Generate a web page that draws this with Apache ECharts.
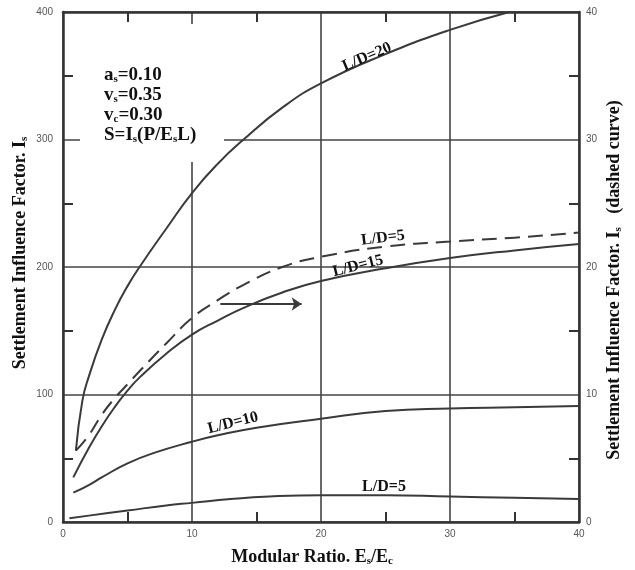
<!DOCTYPE html>
<html><head><meta charset="utf-8">
<script src="https://cdn.jsdelivr.net/npm/echarts@6/dist/echarts.min.js"></script>
<style>html,body{margin:0;padding:0;background:#fff}#c{width:635px;height:570px}</style>
</head><body><div id="c"></div>
<script>
// ---- data ----
const xRange = [0, 40];          // Modular ratio Es/Ec
const leftRange = [0, 400];      // Is (solid curves)
const rightRange = [0, 40];      // Is (dashed curve)
const xStep = 10, leftStep = 100, rightStep = 10;

// solid curves, left axis
const ld20 = [[1,56],[1.5,95],[2,114],[3,143],[4,166],[5,185],[6,201],[8,230],[10,258],[12,281],[14,300],[17,325],[20,344],[25,367],[30,386],[34.6,400]];
const ld15 = [[0.8,35],[2,58],[3,75],[4,90],[5,103],[6,114],[8,132],[10,147],[12,158],[14,168],[17,180],[20,189],[25,199],[30,207],[35,213],[40,218]];
const ld10 = [[0.8,23],[2,29],[3,35],[5,46],[7,54],[10,63],[12,68],[15,74],[20,81],[25,87],[30,89],[35,90],[40,91]];
const ld5  = [[0.5,3],[2,5],[5,9],[8,13],[10,15],[13,18],[16,20],[20,21],[25,21],[30,20],[35,19],[40,18]];
// dashed curve, right axis
const ld5Dashed = [[1,5.6],[2,6.8],[3,8.4],[4,9.7],[5,10.8],[6,11.9],[8,14.0],[10,16.0],[12,17.4],[14,18.6],[17,20.0],[20,20.8],[25,21.6],[30,22.0],[35,22.3],[40,22.7]];
// arrow pointing towards the right (dashed) axis
const arrowFrom = [12.2, 171];
const arrowTo = [18.5, 171];

const curveNames = ['L/D=20', 'L/D=5', 'L/D=15', 'L/D=10', 'L/D=5'];

// ---- styling ----
const ink = '#3a3a3a';
const serif = '"Liberation Serif", "DejaVu Serif", serif';
const tickFont = {fontSize: 10, color: '#555', fontFamily: '"Liberation Sans", sans-serif'};

function valueAxis(pos, range, step, showLabel, showSplit, margin) {
  return {
    type: 'value', position: pos, min: range[0], max: range[1], interval: step,
    axisLine: {show: true, onZero: false, lineStyle: {color: '#333', width: 2.5}},
    axisTick: {show: false, inside: true},
    minorTick: {show: true, splitNumber: 2, length: 10, lineStyle: {color: '#333', width: 2}},
    axisLabel: Object.assign({show: showLabel, margin: margin}, tickFont),
    splitLine: {show: showSplit, lineStyle: {color: '#444', width: 1.6}},
    minorSplitLine: {show: false}
  };
}

function solid(data) {
  return {type: 'line', data: data, xAxisIndex: 0, yAxisIndex: 0, symbol: 'none', showSymbol: false,
    smooth: 0.5, lineStyle: {color: ink, width: 2}, emphasis: {disabled: true}, z: 3};
}

const chart = echarts.init(document.getElementById('c'), null, {renderer: 'canvas'});

const rich = {
  n: {fontFamily: serif, fontSize: 19, fontWeight: 'bold', color: '#111', lineHeight: 20},
  s: {fontFamily: serif, fontSize: 11, fontWeight: 'bold', color: '#111', lineHeight: 11, verticalAlign: 'bottom'}
};
const richT = {
  n: {fontFamily: serif, fontSize: 18, fontWeight: 'bold', color: '#111', lineHeight: 20},
  s: {fontFamily: serif, fontSize: 11, fontWeight: 'bold', color: '#111', lineHeight: 11, verticalAlign: 'bottom'}
};

function label(text, x, y, rotDeg, size) {
  return {type: 'text', x: x, y: y, rotation: rotDeg * Math.PI / 180, z: 10,
    style: {text: text, fill: '#111', font: 'bold ' + (size || 16) + 'px ' + serif,
      align: 'center', verticalAlign: 'middle', textAlign: 'center', textVerticalAlign: 'middle'}};
}

function richText(text, x, y, rotDeg, align) {
  return {type: 'text', x: x, y: y, rotation: rotDeg * Math.PI / 180, z: 10,
    style: {text: text, rich: richT, fill: '#111', font: 'bold 18px ' + serif,
      align: align, verticalAlign: 'middle', textAlign: align, textVerticalAlign: 'middle'}};
}

chart.setOption({
  animation: false,
  backgroundColor: '#fff',
  grid: {left: 63, right: 56, top: 12, bottom: 48, show: false},
  xAxis: [
    valueAxis('bottom', xRange, xStep, true, true, 7),
    valueAxis('top', xRange, xStep, false, false, 7)
  ],
  yAxis: [
    valueAxis('left', leftRange, leftStep, true, true, 10),
    valueAxis('right', rightRange, rightStep, true, false, 7)
  ],
  series: [
    solid(ld20), solid(ld15), solid(ld10), solid(ld5),
    {type: 'line', data: ld5Dashed, xAxisIndex: 0, yAxisIndex: 1, symbol: 'none', showSymbol: false,
      smooth: 0.5, lineStyle: {color: ink, width: 2, type: [15, 8]}, emphasis: {disabled: true}, z: 3},
    {type: 'line', data: [], xAxisIndex: 0, yAxisIndex: 0, z: 3,
      markLine: {silent: true, symbol: ['none', 'arrow'], symbolSize: 10, animation: false,
        lineStyle: {type: 'solid', color: ink, width: 2}, label: {show: false}, emphasis: {disabled: true},
        data: [[{coord: arrowFrom}, {coord: arrowTo}]]}}
  ],
  graphic: [
    // blank patch behind the parameter box (grid lines interrupted there)
    {type: 'rect', z: 1, shape: {x: 80, y: 24, width: 144, height: 138}, style: {fill: '#fff'}},
    {type: 'text', x: 104, y: 65, z: 10,
      style: {text: '{n|a}{s|s}{n|=0.10}\n{n|v}{s|s}{n|=0.35}\n{n|v}{s|c}{n|=0.30}\n{n|S=I}{s|s}{n|(P/E}{s|s}{n|L)}',
        rich: rich, fill: '#111', font: 'bold 19px ' + serif}},
    label(curveNames[0], 367, 57, 23),
    label(curveNames[1], 383, 238, 7),
    label(curveNames[2], 358, 266, 14),
    label(curveNames[3], 233, 423, 14),
    label(curveNames[4], 384, 487, 0),
    richText('{n|Settlement Influence Factor. I}{s|s}', 20, 253, 90, 'center'),
    richText('{n|Settlement Influence Factor. I}{s|s}{n|   (dashed curve)}', 614, 280, 90, 'center'),
    richText('{n|Modular Ratio. E}{s|s}{n|/E}{s|c}', 312, 557, 0, 'center')
  ]
});
</script></body></html>
